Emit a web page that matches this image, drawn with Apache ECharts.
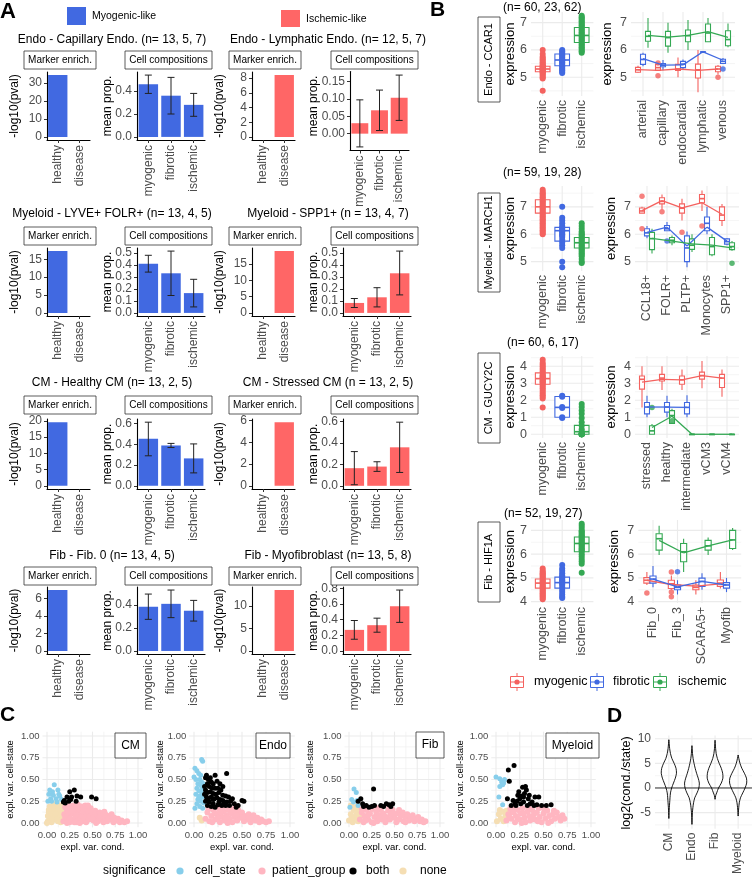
<!DOCTYPE html>
<html><head><meta charset="utf-8">
<script src="https://cdn.jsdelivr.net/npm/echarts@6/dist/echarts.min.js"></script>
<style>html,body{margin:0;padding:0;background:#fff}#c{width:754px;height:877px}</style>
</head><body><div id="c"></div>
<script>
// ================= DATA =================
// ---- Panel A ----
const A_titles = ['Endo - Capillary Endo. (n= 13, 5, 7)','Endo - Lymphatic Endo. (n= 12, 5, 7)','Myeloid - LYVE+ FOLR+ (n= 13, 4, 5)','Myeloid - SPP1+ (n = 13, 4, 7)','CM - Healthy CM (n= 13, 2, 5)','CM - Stressed CM (n = 13, 2, 5)','Fib - Fib. 0 (n= 13, 4, 5)','Fib - Myofibroblast (n= 13, 5, 8)'];
const A_markerCats = ['healthy','disease'];
const A_compCats = ['myogenic','fibrotic','ischemic'];
const A_legend = ['Myogenic-like','Ischemic-like'];
const A_marker = [[34.4,0],[0,8.4],[17.3,0],[0,19.0],[19.6,0],[0,5.85],[7.0,0],[0,13.6]];
const A_markerTicks = [[0,10,20,30],[0,2,4,6,8],[0,5,10,15],[0,5,10,15],[0,5,10,15,20],[0,2,4,6],[0,2,4,6],[0,5,10]];
const A_compMean = [[0.46,0.36,0.28],[0.03,0.067,0.103],[0.41,0.33,0.165],[0.083,0.13,0.33],[0.455,0.39,0.265],[0.165,0.18,0.36],[0.385,0.41,0.35],[0.27,0.33,0.573]];
const A_compLo = [[0.38,0.2,0.18],[-0.038,0.009,0.038],[0.34,0.145,0.05],[0.045,0.05,0.15],[0.29,0.37,0.125],[0.01,0.135,0.125],[0.275,0.29,0.26],[0.15,0.24,0.366]];
const A_compHi = [[0.54,0.52,0.38],[0.097,0.125,0.168],[0.48,0.515,0.28],[0.12,0.21,0.515],[0.615,0.41,0.405],[0.32,0.225,0.595],[0.495,0.53,0.44],[0.39,0.42,0.78]];
const A_compTicks = [[0,0.2,0.4],[0,0.05,0.1,0.15],[0,0.1,0.2,0.3,0.4,0.5],[0,0.1,0.2,0.3,0.4,0.5],[0,0.2,0.4,0.6],[0,0.2,0.4,0.6],[0,0.2,0.4],[0,0.2,0.4,0.6,0.8]];

// ---- Panel B ----
const B_strips = ['Endo - CCAR1','Myeloid - MARCH1','CM - GUCY2C','Fib - HIF1A'];
const B_n = ['(n= 60, 23, 62)','(n= 59, 19, 28)','(n= 60, 6, 17)','(n= 52, 19, 27)'];
const B_groups = ['myogenic','fibrotic','ischemic'];
const B_subCats = [['arterial','capillary','endocardial','lymphatic','venous'],['CCL18+','FOLR+','PLTP+','Monocytes','SPP1+'],['stressed','healthy','intermediate','vCM3','vCM4'],['Fib_0','Fib_3','SCARA5+','Myofib']];
const B_yTicks = [[5,6,7],[5,6,7],[0,1,2,3,4],[4,5,6,7]];
const B_pts = [
 [[6.0,5.85,5.75,5.7,5.65,5.6,5.55,5.5,5.45,5.42,5.4,5.37,5.35,5.32,5.3,5.28,5.25,5.22,5.2,5.17,5.15,5.1,5.05,5.0,4.95,4.5],
  [6.0,5.95,5.9,5.85,5.8,5.75,5.7,5.65,5.62,5.6,5.55,5.5,5.45,5.4,5.35,5.3,5.25,5.2,5.15],
  [7.25,7.2,7.15,7.1,7.05,7.0,6.95,6.9,6.85,6.8,6.75,6.7,6.65,6.6,6.55,6.5,6.45,6.4,6.35,6.3,6.25,6.2,6.15,6.1,6.05,6.0,5.95,5.9]],
 [[7.62,7.55,7.5,7.45,7.4,7.35,7.3,7.25,7.2,7.15,7.1,7.05,7.0,6.95,6.9,6.85,6.8,6.75,6.7,6.65,6.6,6.55,6.5,6.45,6.4,6.35,6.3,6.25,6.2,6.15,6.1,6.05,6.0],
  [7.0,6.6,6.5,6.4,6.3,6.25,6.2,6.15,6.1,6.05,6.0,5.95,5.9,5.8,5.7,5.6,5.5,5.0,4.8],
  [6.4,6.3,6.2,6.1,6.05,6.0,5.95,5.9,5.85,5.8,5.75,5.7,5.65,5.6,5.55,5.5,5.45,5.4,5.35,5.3,5.25,5.2,5.1,5.0,4.95]],
 [[4.38,4.2,4.1,4.0,3.9,3.8,3.7,3.6,3.5,3.45,3.4,3.35,3.3,3.25,3.2,3.15,3.1,3.05,3.0,2.9,2.8,2.7,2.6,2.5,2.4,2.3,2.2,2.1,1.58],
  [2.26,2.2,1.6,1.55,1.0,0.95],
  [1.78,1.6,1.39,1.2,0.95,0.7,0.5,0.3,0.15,0.05,0,0,0,0,0,0,0]],
 [[5.4,5.3,5.25,5.2,5.15,5.1,5.05,5.0,4.95,4.9,4.85,4.8,4.75,4.7,4.65,4.6,4.55,4.5,4.45,4.4,4.35,4.3,4.25,4.2,4.15,4.1],
  [5.54,5.4,5.3,5.2,5.1,5.05,5.0,4.95,4.9,4.85,4.8,4.75,4.7,4.6,4.5,4.4,4.3,4.2,4.15],
  [7.28,7.2,7.1,7.0,6.95,6.9,6.85,6.8,6.75,6.7,6.65,6.6,6.55,6.5,6.45,6.4,6.35,6.3,6.25,6.2,6.15,6.1,6.0,5.9,5.8,5.7,5.6,5.22]]
];
// [min, q1, median, q3, max]
const B_box = [
 [[4.95,5.2,5.3,5.4,5.7],[5.15,5.42,5.63,5.85,6.0],[5.9,6.27,6.53,6.82,7.25]],
 [[6.0,6.77,7.0,7.26,7.62],[5.5,5.75,6.13,6.25,6.6],[5.0,5.5,5.69,5.88,6.4]],
 [[2.0,2.94,3.27,3.61,4.38],[0.95,1.0,1.58,2.22,2.26],[0,0,0.15,0.52,1.2]],
 [[4.1,4.57,4.78,4.95,5.4],[4.15,4.57,4.8,5.03,5.54],[5.6,6.1,6.45,6.72,7.28]]
];
const B_subBox = [
 [[[5.15,5.18,5.27,5.36,5.42],[5.25,5.25,5.35,5.47,5.55],[5.0,5.25,5.3,5.47,5.72],[4.45,4.97,5.27,5.48,6.0],[5.1,5.2,5.3,5.4,5.45]],
  [[5.4,5.47,5.65,5.84,5.9],[5.25,5.38,5.44,5.5,5.63],[5.3,5.35,5.48,5.58,5.65],[5.93,5.93,5.93,5.93,5.93],[5.5,5.5,5.58,5.66,5.7]],
  [[6.08,6.32,6.5,6.68,7.17],[5.9,6.14,6.45,6.68,7.0],[6.0,6.3,6.52,6.73,7.1],[6.3,6.3,6.62,6.95,7.17],[6.1,6.15,6.38,6.7,6.97]]],
 [[[6.77,6.77,6.85,6.96,7.0],[6.9,7.11,7.2,7.33,7.45],[6.5,6.77,6.95,7.11,7.3],[6.85,7.15,7.3,7.45,7.6],[6.3,6.5,6.7,7.0,7.1]],
  [[5.85,5.94,6.05,6.2,6.3],[6.13,6.13,6.2,6.32,6.45],[4.8,5.0,5.5,5.94,6.1],[6.0,6.13,6.4,6.63,7.0],[5.6,5.64,5.73,5.83,5.85]],
  [[5.3,5.44,5.84,6.07,6.2],[5.6,5.69,5.78,5.88,5.95],[5.35,5.45,5.6,5.83,6.0],[5.2,5.25,5.55,5.88,6.0],[5.4,5.44,5.55,5.69,5.75]]],
 [[[1.58,2.65,3.23,3.42,4.0],[2.6,3.13,3.3,3.52,4.0],[2.6,2.94,3.2,3.42,3.8],[2.7,3.24,3.45,3.65,4.3],[2.2,2.75,3.3,3.52,3.8]],
  [[1.0,1.2,1.6,1.87,2.27],[1.0,1.3,1.6,1.87,2.27],[1.0,1.2,1.58,1.87,2.3],null,null],
  [[0,0,0.2,0.5,0.6],[0.64,0.64,1.1,1.39,1.5],[0,0,0,0,0],[0,0,0,0,0],[0,0,0,0,0]]],
 [[[4.7,4.78,4.9,5.01,5.25],[4.5,4.55,4.75,4.9,5.1],[4.3,4.5,4.6,4.7,4.9],[4.55,4.64,4.78,4.91,5.25]],
  [[4.6,4.78,4.95,5.08,5.5],[4.3,4.5,4.6,4.7,4.9],[4.5,4.64,4.85,4.99,5.2],[4.4,4.57,4.7,4.8,5.0]],
  [[5.96,6.17,6.65,6.86,7.2],[5.25,5.68,6.1,6.45,6.65],[5.96,6.17,6.35,6.58,6.7],[6.17,6.24,6.6,7.0,7.1]]]
];
// outliers: [category index, value]
const B_subOut = [
 [[[1,5.52],[1,5.05],[4,5.0]],[[4,5.3]],[]],
 [[[0,7.39],[0,6.2],[1,6.82],[2,6.07],[3,6.3]],[[1,5.75]],[[4,4.94]]],
 [[],[],[[0,1.58],[1,0.8]]],
 [[[0,4.36],[1,5.25],[1,4.4],[1,4.2]],[[1,5.26]],[]]
];
const B_subLine = [
 [[5.28,5.25,5.3,5.25,5.3],[5.68,5.44,5.45,5.93,5.62],[6.53,6.47,6.53,6.67,6.46]],
 [[6.86,7.23,6.96,7.15,6.73],[6.07,6.26,5.57,6.26,5.75],[5.85,5.75,5.65,5.6,5.5]],
 [[3.07,3.23,3.2,3.44,3.3],[1.6,1.6,1.58,null,null],[0.4,1.06,0,0,0]],
 [[4.9,4.72,4.65,4.75],[4.95,4.62,4.85,4.7],[6.58,6.05,6.35,6.6]]
];

// ---- Panel C ----
const C_panels = ['CM','Endo','Fib','Myeloid'];
const C_sig = ['cell_state','patient_group','both','none'];
const C_ticks = [0,0.25,0.5,0.75,1];
const C_none = [
 [[0.01,0.02],[0.03,0.06],[0.05,0.01],[0.06,0.1],[0.08,0.04],[0.1,0.08],[0.12,0.02],[0.13,0.12],[0.15,0.06],[0.16,0.15],[0.02,0.12],[0.04,0.16],[0.07,0.2],[0.09,0.14],[0.11,0.18],[0.14,0.2],[0.17,0.1],[0.01,0.08],[0.05,0.13],[0.08,0.17],[0.12,0.15],[0.15,0.01],[0.17,0.18],[0.03,0.19],[0.1,0.22],[0.06,0.05],[0.13,0.07],[0.16,0.03],[0.02,0.15],[0.09,0.1],[0.0,0.0],[0.11,0.04]],
 [[0.06,0.06],[0.08,0.03]],
 [[0.0,0.03],[0.02,0.1],[0.04,0.01],[0.05,0.15],[0.07,0.06],[0.09,0.12],[0.1,0.02],[0.02,0.2],[0.06,0.18],[0.08,0.09],[0.11,0.16],[0.03,0.06],[0.12,0.07],[0.1,0.2]],
 [[0.01,0.02],[0.03,0.1],[0.05,0.05],[0.07,0.13],[0.08,0.02],[0.1,0.08],[0.04,0.15],[0.11,0.14]]
];
const C_patient = [
 [[0.18,0.02],[0.19,0.1],[0.2,0.18],[0.21,0.05],[0.22,0.14],[0.23,0.21],[0.24,0.08],[0.25,0.01],[0.26,0.17],[0.27,0.11],[0.28,0.04],[0.29,0.2],[0.3,0.14],[0.31,0.07],[0.32,0.01],[0.33,0.18],[0.34,0.11],[0.35,0.04],[0.36,0.15],[0.37,0.08],[0.38,0.19],[0.39,0.02],[0.4,0.12],[0.41,0.06],[0.42,0.16],[0.43,0.01],[0.44,0.1],[0.45,0.14],[0.46,0.04],[0.47,0.08],[0.48,0.17],[0.5,0.12],[0.51,0.03],[0.52,0.07],[0.53,0.14],[0.55,0.1],[0.56,0.02],[0.57,0.06],[0.58,0.12],[0.6,0.04],[0.61,0.09],[0.62,0.01],[0.63,0.13],[0.65,0.06],[0.66,0.02],[0.68,0.08],[0.7,0.04],[0.71,0.1],[0.73,0.01],[0.74,0.06],[0.76,0.03],[0.78,0.05],[0.8,0.01],[0.82,0.03],[0.85,0.01],[0.88,0.02],[0.34,0.21],[0.42,0.2],[0.23,0.12],[0.3,0.01],[0.45,0.2],[0.28,0.15],[0.2,0.07],[0.25,0.05],[0.36,0.0],[0.49,0.05],[0.54,0.0],[0.59,0.08],[0.67,0.05],[0.32,0.09],[0.4,0.16],[0.22,0.0],[0.64,0.1],[0.72,0.07]],
 [[0.12,0.05],[0.14,0.12],[0.16,0.02],[0.18,0.08],[0.2,0.15],[0.22,0.04],[0.24,0.1],[0.26,0.16],[0.27,0.01],[0.29,0.07],[0.31,0.13],[0.32,0.03],[0.34,0.09],[0.36,0.15],[0.37,0.05],[0.39,0.11],[0.4,0.01],[0.42,0.07],[0.43,0.14],[0.45,0.03],[0.47,0.1],[0.48,0.06],[0.5,0.12],[0.52,0.02],[0.53,0.08],[0.55,0.04],[0.57,0.1],[0.59,0.01],[0.6,0.06],[0.62,0.09],[0.64,0.03],[0.66,0.06],[0.68,0.01],[0.7,0.04],[0.72,0.02],[0.75,0.01],[0.78,0.02],[0.22,0.11],[0.3,0.17],[0.15,0.16],[0.41,0.16],[0.35,0.0],[0.46,0.15],[0.19,0.01],[0.28,0.12],[0.44,0.09],[0.51,0.07],[0.58,0.05],[0.33,0.06],[0.25,0.06]],
 [[0.12,0.04],[0.14,0.12],[0.16,0.01],[0.17,0.08],[0.19,0.15],[0.21,0.04],[0.23,0.11],[0.25,0.01],[0.26,0.16],[0.28,0.07],[0.3,0.12],[0.31,0.02],[0.33,0.09],[0.35,0.15],[0.36,0.04],[0.38,0.11],[0.4,0.01],[0.41,0.07],[0.43,0.14],[0.45,0.04],[0.46,0.1],[0.48,0.15],[0.5,0.06],[0.52,0.01],[0.53,0.11],[0.55,0.04],[0.57,0.08],[0.59,0.12],[0.6,0.02],[0.62,0.07],[0.64,0.1],[0.66,0.03],[0.68,0.06],[0.7,0.09],[0.72,0.02],[0.74,0.05],[0.76,0.07],[0.78,0.02],[0.8,0.04],[0.82,0.01],[0.84,0.02],[0.2,0.17],[0.32,0.17],[0.44,0.17],[0.55,0.15],[0.14,0.17],[0.27,0.0],[0.21,0.09],[0.34,0.05],[0.39,0.07],[0.49,0.1],[0.62,0.01],[0.7,0.04],[0.18,0.03]],
 [[0.11,0.03],[0.13,0.1],[0.15,0.16],[0.16,0.05],[0.18,0.12],[0.2,0.01],[0.21,0.08],[0.23,0.15],[0.25,0.04],[0.26,0.11],[0.28,0.17],[0.3,0.06],[0.31,0.01],[0.33,0.13],[0.35,0.08],[0.36,0.03],[0.38,0.15],[0.4,0.1],[0.41,0.04],[0.43,0.12],[0.45,0.17],[0.46,0.07],[0.48,0.01],[0.5,0.11],[0.52,0.05],[0.54,0.14],[0.56,0.08],[0.58,0.02],[0.6,0.1],[0.62,0.05],[0.64,0.12],[0.66,0.07],[0.68,0.03],[0.7,0.09],[0.72,0.05],[0.19,0.17],[0.34,0.18],[0.14,0.07],[0.27,0.0],[0.5,0.17],[0.23,0.05],[0.39,0.05],[0.44,0.02],[0.55,0.0],[0.29,0.11],[0.61,0.14]]
];
const C_cell = [
 [[0.08,0.44],[0.03,0.38],[0.12,0.38],[0.02,0.33],[0.07,0.32],[0.14,0.31],[0.04,0.28],[0.1,0.28],[0.16,0.27],[0.05,0.25],[0.11,0.24],[0.01,0.25],[0.13,0.33],[0.06,0.36]],
 [[0.08,0.73],[0.09,0.71],[0.01,0.63],[0.03,0.6],[0.05,0.57],[0.0,0.53],[0.02,0.5],[0.06,0.5],[0.08,0.47],[0.04,0.45],[0.07,0.43],[0.09,0.4],[0.03,0.4],[0.05,0.37],[0.08,0.35],[0.02,0.33],[0.06,0.31],[0.09,0.3],[0.04,0.27],[0.07,0.25],[0.1,0.23],[0.03,0.22],[0.06,0.19],[0.09,0.17],[0.01,0.17],[0.05,0.3],[0.07,0.55],[0.1,0.45]],
 [[0.055,0.39],[0.08,0.35],[0.03,0.27],[0.09,0.26],[0.05,0.24],[0.01,0.18],[0.1,0.2]],
 [[0.0,0.53],[0.04,0.51],[0.06,0.47],[0.07,0.44],[0.09,0.5],[0.04,0.42],[0.03,0.3],[0.07,0.21],[0.08,0.46]]
];
const C_both = [
 [[0.18,0.24],[0.2,0.23],[0.22,0.3],[0.25,0.36],[0.27,0.3],[0.26,0.27],[0.3,0.38],[0.32,0.25],[0.33,0.31],[0.37,0.3],[0.49,0.3],[0.54,0.28],[0.19,0.26],[0.24,0.25]],
 [[0.13,0.55],[0.22,0.55],[0.34,0.57],[0.12,0.52],[0.15,0.5],[0.18,0.47],[0.2,0.45],[0.14,0.45],[0.16,0.42],[0.19,0.4],[0.22,0.4],[0.25,0.4],[0.28,0.38],[0.12,0.38],[0.14,0.35],[0.17,0.36],[0.2,0.34],[0.23,0.33],[0.26,0.35],[0.3,0.32],[0.33,0.31],[0.36,0.3],[0.13,0.3],[0.15,0.28],[0.18,0.3],[0.21,0.28],[0.24,0.29],[0.27,0.27],[0.3,0.26],[0.34,0.24],[0.38,0.25],[0.42,0.22],[0.46,0.2],[0.5,0.26],[0.52,0.25],[0.12,0.25],[0.16,0.24],[0.2,0.22],[0.25,0.21],[0.29,0.2],[0.33,0.2],[0.14,0.2],[0.18,0.19],[0.22,0.18],[0.4,0.28],[0.37,0.2],[0.3,0.42],[0.27,0.45],[0.17,0.52],[0.24,0.48],[0.11,0.42],[0.11,0.33],[0.2,0.27],[0.44,0.18],[0.31,0.22],[0.26,0.24]],
 [[0.1,0.25],[0.13,0.28],[0.15,0.22],[0.19,0.2],[0.27,0.39],[0.25,0.19],[0.28,0.2],[0.35,0.2],[0.38,0.19],[0.41,0.22],[0.44,0.21],[0.46,0.19],[0.48,0.22],[0.22,0.18],[0.16,0.19]],
 [[0.19,0.66],[0.13,0.61],[0.14,0.48],[0.12,0.28],[0.16,0.2],[0.2,0.22],[0.23,0.32],[0.25,0.28],[0.26,0.22],[0.28,0.41],[0.29,0.24],[0.3,0.34],[0.31,0.42],[0.32,0.38],[0.34,0.28],[0.36,0.22],[0.38,0.24],[0.41,0.3],[0.43,0.21],[0.45,0.3],[0.48,0.2],[0.53,0.2],[0.58,0.21],[0.22,0.25],[0.27,0.31],[0.33,0.2],[0.18,0.26],[0.4,0.2],[0.24,0.36],[0.29,0.3],[0.35,0.32],[0.21,0.2]]
];

// ---- Panel D ----
const D_cats = ['CM','Endo','Fib','Myeloid'];
const D_yTicks = [-5,0,5,10];
// violin outline: [value, half width in category units]
const D_violin = [
 [[-6.2,0],[-5,0.01],[-4,0.02],[-3,0.035],[-2,0.05],[-1,0.07],[0,0.12],[1,0.2],[2,0.28],[3,0.33],[4,0.31],[5,0.23],[6,0.13],[7,0.07],[8,0.035],[9,0.015],[9.8,0]],
 [[-7.4,0],[-6,0.01],[-5,0.02],[-4,0.04],[-3,0.07],[-2,0.12],[-1,0.22],[0,0.3],[1,0.32],[2,0.27],[3,0.2],[4,0.14],[5,0.09],[6,0.05],[7,0.025],[8,0.01],[8.6,0]],
 [[-2.3,0],[-1.5,0.03],[-1,0.07],[0,0.15],[1,0.27],[2,0.34],[3,0.33],[4,0.27],[5,0.18],[6,0.1],[7,0.05],[8,0.025],[9,0.01],[9.7,0]],
 [[-5.7,0],[-5,0.01],[-4,0.025],[-3,0.05],[-2,0.1],[-1,0.2],[0,0.3],[1,0.37],[2,0.36],[3,0.27],[4,0.16],[5,0.08],[6,0.03],[6.7,0]]
];

// ================= STYLE / LAYOUT =================
const FF = '"Liberation Sans", Arial, Helvetica, sans-serif';
const TICKC = '#4D4D4D';
const BLUE = '#4169E1', RED = '#FF6666';
const BCOL = ['#F4625F','#4169E1','#34A853'];
const CCOL = {cell_state:'#87CEEB', patient_group:'#FFB6C1', both:'#000000', none:'#F5DEB3'};

const opt = {animation:false, textStyle:{fontFamily:FF}, grid:[], xAxis:[], yAxis:[], series:[], graphic:{elements:[]}};
const G = opt.graphic.elements;

function addGrid(g, xa, ya){ const i = opt.grid.length; opt.grid.push(Object.assign({containLabel:false, show:false}, g)); xa.gridIndex = i; ya.gridIndex = i; opt.xAxis.push(xa); opt.yAxis.push(ya); return i; }
function decFmt(ticks){ const d = Math.max(...ticks.map(t => { const s = String(t); return s.indexOf('.') >= 0 ? s.split('.')[1].length : 0; })); return v => Number(v).toFixed(d); }
function txt(x, y, text, o){ o = o || {}; const al = o.align || 'center', va = o.va || 'middle';
  return {type:'text', x:x, y:y, rotation:o.rot || 0, z:100, silent:true,
    style:{text:text, fontSize:o.size || 12, fontFamily:FF, fontWeight:o.bold ? 'bold' : 'normal', fill:o.color || '#000', align:al, verticalAlign:va, textAlign:al, textVerticalAlign:va}}; }
function rectG(x, y, w, h, fill, stroke){ return {type:'rect', z:99, silent:true, shape:{x:x, y:y, width:w, height:h}, style:{fill:fill, stroke:stroke || null, lineWidth:stroke ? 0.8 : 0}}; }
function minors(ticks, r){ const s = ticks[1] - ticks[0]; const out = []; for (let v = ticks[0] - s / 2; v <= r[1] + 1e-9; v += s){ if (v >= r[0] - 1e-9 && !ticks.some(t => Math.abs(t - v) < 1e-9)) out.push(+v.toFixed(6)); } return out; }
function expand(lo, hi){ const s = hi - lo; return [lo - 0.05 * s, hi + 0.05 * s]; }

// gridline custom renderer: [orient(0=h,1=v), value, kind(0 minor,1 major,2 black), otherAxisValue]
function gridItem(params, api){ const cs = params.coordSys; const o = api.value(0), v = api.value(1), k = api.value(2), ot = api.value(3);
  const st = k === 2 ? {stroke:'#333', lineWidth:1} : (k === 1 ? {stroke:'#EBEBEB', lineWidth:1.1} : {stroke:'#EFEFEF', lineWidth:0.6});
  if (o === 0){ const y = api.coord([ot, v])[1]; return {type:'line', shape:{x1:cs.x, y1:y, x2:cs.x + cs.width, y2:y}, style:st}; }
  const x = api.coord([v, ot])[0]; return {type:'line', shape:{x1:x, y1:cs.y, x2:x, y2:cs.y + cs.height}, style:st}; }
function addGridLines(gi, hMaj, hMin, vMaj, vMin, xr, yr, extraBlack){
  const d = [];
  hMin.forEach(v => d.push([0, v, 0, xr[0]])); vMin.forEach(v => d.push([1, v, 0, yr[0]]));
  hMaj.forEach(v => d.push([0, v, 1, xr[0]])); vMaj.forEach(v => d.push([1, v, 1, yr[0]]));
  (extraBlack || []).forEach(v => d.push([0, v, 2, xr[0]]));
  opt.series.push({type:'custom', xAxisIndex:gi, yAxisIndex:gi, data:d, renderItem:gridItem, silent:true, z:0, clip:false});
}
function boxItem(color, wUnits, lw, fill){ return function(params, api){
  const u = api.size([1, 0])[0]; const xv = api.value(0);
  const X = api.coord([xv, api.value(3)])[0]; const Y = k => api.coord([xv, api.value(k)])[1];
  const yMin = Y(1), yQ1 = Y(2), yMed = Y(3), yQ3 = Y(4), yMax = Y(5); const hw = wUnits * u / 2;
  const st = {stroke:color, lineWidth:lw};
  return {type:'group', children:[
    {type:'line', shape:{x1:X, y1:yQ3, x2:X, y2:yMax}, style:st},
    {type:'line', shape:{x1:X, y1:yQ1, x2:X, y2:yMin}, style:st},
    {type:'rect', shape:{x:X - hw, y:yQ3, width:2 * hw, height:Math.max(yQ1 - yQ3, 0.5)}, style:{stroke:color, lineWidth:lw, fill:fill}},
    {type:'line', shape:{x1:X - hw, y1:yMed, x2:X + hw, y2:yMed}, style:{stroke:color, lineWidth:lw * 1.5}}]}; }; }
function segItem(pts, color){ return function(params, api){ const i = params.dataIndex;
  if (i >= pts.length - 1) return {type:'group', children:[]};
  const a = api.coord(pts[i]), b = api.coord(pts[i + 1]);
  return {type:'line', shape:{x1:a[0], y1:a[1], x2:b[0], y2:b[1]}, style:{stroke:color, lineWidth:1.3}}; }; }
function errItem(color){ return function(params, api){ const i = api.value(0);
  const lo = api.coord([i, api.value(1)]), hi = api.coord([i, api.value(2)]); const x = lo[0], cw = 3.5; const st = {stroke:color, lineWidth:1};
  return {type:'group', children:[{type:'line', shape:{x1:x, y1:lo[1], x2:x, y2:hi[1]}, style:st},
    {type:'line', shape:{x1:x - cw, y1:lo[1], x2:x + cw, y2:lo[1]}, style:st},
    {type:'line', shape:{x1:x - cw, y1:hi[1], x2:x + cw, y2:hi[1]}, style:st}]}; }; }
function violinItem(profiles){ return function(params, api){ const i = params.dataIndex; const pos = api.value(0); const u = api.size([1, 0])[0];
  const R = [], L = []; profiles[i].forEach(p => { const c = api.coord([pos, p[0]]); R.push([c[0] + p[1] * u, c[1]]); L.push([c[0] - p[1] * u, c[1]]); });
  return {type:'polygon', shape:{points:R.concat(L.reverse()), smooth:0.25}, style:{fill:'none', stroke:'#000', lineWidth:0.9}}; }; }

// axis factories
function catAxisA(cats){ return {type:'category', data:cats, axisLine:{show:true, onZero:false, lineStyle:{color:'#000', width:1.1}}, axisTick:{show:true, alignWithLabel:true, length:3, lineStyle:{color:'#333'}}, axisLabel:{rotate:90, interval:0, color:TICKC, fontSize:12, fontFamily:FF, margin:5}, splitLine:{show:false}}; }
function valAxisA(r, ticks){ return {type:'value', min:r[0], max:r[1], axisLine:{show:true, onZero:false, lineStyle:{color:'#000', width:1.1}}, axisTick:{show:true, length:3, customValues:ticks, lineStyle:{color:'#333'}}, axisLabel:{customValues:ticks, formatter:decFmt(ticks), color:TICKC, fontSize:12, fontFamily:FF, margin:5}, splitLine:{show:false}}; }
function xCatVal(cats, r, fs){ const vals = cats.map((_, i) => i + 1); return {type:'value', min:r[0], max:r[1], axisLine:{show:false}, axisTick:{show:false}, splitLine:{show:false}, axisLabel:{customValues:vals, formatter:v => cats[Math.round(v) - 1], rotate:90, color:TICKC, fontSize:fs, fontFamily:FF, margin:4}}; }
function yVal(r, ticks, fs, margin){ return {type:'value', min:r[0], max:r[1], axisLine:{show:false}, axisTick:{show:false}, splitLine:{show:false}, axisLabel:{customValues:ticks, formatter:decFmt(ticks), color:TICKC, fontSize:fs, fontFamily:FF, margin:margin}}; }

// ================= PANEL A =================
G.push(txt(0, 12, 'A', {size:22, bold:true, align:'left'}));
G.push(rectG(67, 7, 19, 18, BLUE)); G.push(txt(92, 16.5, A_legend[0], {size:10.5, align:'left'}));
G.push(rectG(281, 10, 19, 17, RED)); G.push(txt(306, 19, A_legend[1], {size:10.5, align:'left'}));
const A_rowTop = [72, 248, 419, 587], A_rowBot = [140, 316, 489, 654];
const A_stripY = [51, 227, 396, 567], A_titleY = [40, 214, 383, 556];
for (let p = 0; p < 8; p++){
  const r = Math.floor(p / 2), c = p % 2; const dxM = c ? 205 : 0, dxC = c ? 206 : 0; const color = c ? RED : BLUE;
  G.push(txt(c ? 328 : 112, A_titleY[r], A_titles[p], {size:12}));
  G.push(rectG(24 + dxM, A_stripY[r], 72, 18, '#fff', '#333')); G.push(txt(60 + dxM, A_stripY[r] + 9, 'Marker enrich.', {size:10}));
  G.push(rectG(125 + dxC, A_stripY[r], 87, 18, '#fff', '#333')); G.push(txt(168.5 + dxC, A_stripY[r] + 9, 'Cell compositions', {size:10}));
  // marker enrichment
  const mv = A_marker[p]; const mr = expand(0, Math.max(...mv));
  const top = A_rowTop[r], h = A_rowBot[r] - A_rowTop[r];
  const gm = addGrid({left:47 + dxM, top:top, width:43, height:h}, catAxisA(A_markerCats), valAxisA(mr, A_markerTicks[p]));
  opt.series.push({type:'bar', xAxisIndex:gm, yAxisIndex:gm, data:mv, barCategoryGap:'10%', itemStyle:{color:color}, silent:true});
  G.push(txt(15 + dxM, top + h / 2, '-log10(pval)', {size:12, rot:Math.PI / 2}));
  // cell compositions
  const cr = expand(Math.min(0, ...A_compLo[p]), Math.max(...A_compHi[p], ...A_compMean[p]));
  let ct = top, ch = h, cl = 137 + dxC, cw = 68; if (p === 1){ ct = 71.5; ch = 79; cl = 350; cw = 59; }
  const gc = addGrid({left:cl, top:ct, width:cw, height:ch}, catAxisA(A_compCats), valAxisA(cr, A_compTicks[p]));
  opt.series.push({type:'bar', xAxisIndex:gc, yAxisIndex:gc, data:A_compMean[p], barCategoryGap:'14%', itemStyle:{color:color}, silent:true});
  opt.series.push({type:'custom', xAxisIndex:gc, yAxisIndex:gc, data:A_compLo[p].map((lo, i) => [i, lo, A_compHi[p][i]]), renderItem:errItem('#222'), z:5, silent:true});
  G.push(txt(108 + dxC, top + h / 2, 'mean prop.', {size:12, rot:Math.PI / 2}));
}

// ================= PANEL B =================
G.push(txt(430, 10, 'B', {size:21, bold:true, align:'left'}));
const B_rowTop = [12, 186, 356, 520], B_rowBot = [96, 271, 438, 603];
const B_rightLeft = [631, 635, 635, 638.3], B_rightW = [104, 104, 104, 102.9];
const B_strip = [[17, 102], [193, 292], [353, 443], [522, 602]];
const B_nPos = [[503, 7.5], [503, 173], [507, 343], [504, 514]];
const dodge = [-0.25, 0, 0.25];
for (let r = 0; r < 4; r++){
  const all = [];
  B_pts[r].forEach(a => all.push(...a)); B_box[r].forEach(b => all.push(...b));
  B_subBox[r].forEach(gr => gr.forEach(b => { if (b) all.push(...b); })); B_subOut[r].forEach(gr => gr.forEach(o => all.push(o[1])));
  const yr = expand(Math.min(...all), Math.max(...all));
  const ticks = B_yTicks[r], mins = minors(ticks, yr);
  const top = B_rowTop[r], h = B_rowBot[r] - B_rowTop[r];
  const xrL = [0.4, 3.6];
  const gl = addGrid({left:531, top:top, width:62.4, height:h}, xCatVal(B_groups, xrL, 12.5), yVal(yr, ticks, 12.5, 4));
  addGridLines(gl, ticks, mins, [1, 2, 3], [], xrL, yr);
  for (let g = 0; g < 3; g++){
    opt.series.push({type:'custom', xAxisIndex:gl, yAxisIndex:gl, data:[[g + 1, ...B_box[r][g]]], renderItem:boxItem(BCOL[g], 0.75, 1.1, '#fff'), z:2, silent:true});
    opt.series.push({type:'scatter', xAxisIndex:gl, yAxisIndex:gl, data:B_pts[r][g].map(v => [g + 1, v]), symbolSize:6, itemStyle:{color:BCOL[g], opacity:1}, z:3, silent:true});
  }
  const cats = B_subCats[r]; const xrR = [0.4, cats.length + 0.6];
  const gr = addGrid({left:B_rightLeft[r], top:top, width:B_rightW[r], height:h}, xCatVal(cats, xrR, 12.5), yVal(yr, ticks, 12.5, 4));
  addGridLines(gr, ticks, mins, cats.map((_, i) => i + 1), [], xrR, yr);
  for (let g = 0; g < 3; g++){
    const bd = []; B_subBox[r][g].forEach((b, i) => { if (b) bd.push([i + 1 + dodge[g], ...b]); });
    opt.series.push({type:'custom', xAxisIndex:gr, yAxisIndex:gr, data:bd, renderItem:boxItem(BCOL[g], 0.25, 1.1, '#fff'), z:2, silent:true});
    if (B_subOut[r][g].length) opt.series.push({type:'scatter', xAxisIndex:gr, yAxisIndex:gr, data:B_subOut[r][g].map(o => [o[0] + 1 + dodge[g], o[1]]), symbolSize:5.5, itemStyle:{color:BCOL[g]}, z:3, silent:true});
    const lp = []; B_subLine[r][g].forEach((v, i) => { if (v != null) lp.push([i + 1 + dodge[g], v]); });
    opt.series.push({type:'custom', xAxisIndex:gr, yAxisIndex:gr, data:lp, renderItem:segItem(lp, BCOL[g]), z:4, silent:true});
  }
  G.push(txt(B_nPos[r][0], B_nPos[r][1], B_n[r], {size:12, align:'left'}));
  G.push(rectG(478, B_strip[r][0], 22, B_strip[r][1] - B_strip[r][0], '#fff', '#333'));
  G.push(txt(489, (B_strip[r][0] + B_strip[r][1]) / 2, B_strips[r], {size:11, rot:Math.PI / 2}));
  G.push(txt(510, top + h / 2, 'expression', {size:13, rot:Math.PI / 2}));
  G.push(txt(B_rightLeft[r] - 23.5, top + h / 2, 'expression', {size:13, rot:Math.PI / 2}));
}
const B_legX = [517, 597, 660], B_legTX = [534, 613, 678];
for (let g = 0; g < 3; g++){
  const x = B_legX[g], y = 682;
  G.push({type:'line', z:99, silent:true, shape:{x1:x, y1:y - 9, x2:x, y2:y + 9}, style:{stroke:BCOL[g], lineWidth:1}});
  G.push({type:'rect', z:99, silent:true, shape:{x:x - 6.5, y:y - 5.5, width:13, height:11}, style:{fill:'#fff', stroke:BCOL[g], lineWidth:1}});
  G.push({type:'line', z:99, silent:true, shape:{x1:x - 6.5, y1:y, x2:x + 6.5, y2:y}, style:{stroke:BCOL[g], lineWidth:1}});
  G.push({type:'circle', z:100, silent:true, shape:{cx:x, cy:y, r:2.6}, style:{fill:BCOL[g]}});
  G.push(txt(B_legTX[g], y, B_groups[g], {size:12.5, align:'left'}));
}

// ================= PANEL C =================
G.push(txt(0, 715, 'C', {size:21, bold:true, align:'left'}));
const C_left = [42.45, 189.2, 344.45, 491.25], C_w = [100.1, 105.6, 100.1, 104.5];
const C_top = 731.65, C_h = 95.7;
const C_strip = [[115, 733, 31, 25], [256, 733, 34, 25], [416, 732, 28, 26], [546, 733, 53, 25]];
const C_yTitleX = [10, 160, 310, 460];
const cr01 = [-0.05, 1.05]; const cMin = minors(C_ticks, cr01);
for (let k = 0; k < 4; k++){
  const xa = {type:'value', min:cr01[0], max:cr01[1], axisLine:{show:false}, axisTick:{show:false}, splitLine:{show:false}, axisLabel:{customValues:C_ticks, formatter:decFmt(C_ticks), color:TICKC, fontSize:9.5, fontFamily:FF, margin:3}};
  const gi = addGrid({left:C_left[k], top:C_top, width:C_w[k], height:C_h}, xa, yVal(cr01, C_ticks, 9.5, 3));
  addGridLines(gi, C_ticks, cMin, C_ticks, cMin, cr01, cr01);
  const sets = [['none', C_none[k], 6], ['patient_group', C_patient[k], 6], ['cell_state', C_cell[k], 5], ['both', C_both[k], 5]];
  sets.forEach(s => opt.series.push({type:'scatter', name:s[0], xAxisIndex:gi, yAxisIndex:gi, data:s[1], symbolSize:s[2], itemStyle:{color:CCOL[s[0]], opacity:1}, z:3, silent:true}));
  const sb = C_strip[k]; G.push(rectG(sb[0], sb[1], sb[2], sb[3], '#fff', '#333')); G.push(txt(sb[0] + sb[2] / 2, sb[1] + sb[3] / 2, C_panels[k], {size:12}));
  G.push(txt(C_left[k] + C_w[k] / 2, 847, 'expl. var. cond.', {size:9.5}));
  G.push(txt(C_yTitleX[k], C_top + C_h / 2, 'expl. var. cell-state', {size:9.5, rot:Math.PI / 2}));
}
G.push(txt(103, 871, 'significance', {size:12, align:'left'}));
const C_legDot = [180, 262, 353, 403], C_legTxt = [195, 272, 366, 420];
C_sig.forEach((s, i) => { G.push({type:'circle', z:100, silent:true, shape:{cx:C_legDot[i], cy:871, r:3.6}, style:{fill:CCOL[s]}}); G.push(txt(C_legTxt[i], 871, s, {size:12, align:'left'})); });

// ================= PANEL D =================
G.push(txt(607, 716, 'D', {size:21, bold:true, align:'left'}));
{
  let lo = Infinity, hi = -Infinity; D_violin.forEach(v => v.forEach(p => { lo = Math.min(lo, p[0]); hi = Math.max(hi, p[0]); }));
  const yr = expand(lo, hi); const xr = [0.4, 4.6];
  const gi = addGrid({left:655, top:735.5, width:97, height:95.5}, xCatVal(D_cats, xr, 12), yVal(yr, D_yTicks, 12, 4));
  addGridLines(gi, D_yTicks, minors(D_yTicks, yr), [1, 2, 3, 4], [], xr, yr, [0]);
  opt.series.push({type:'custom', xAxisIndex:gi, yAxisIndex:gi, data:D_cats.map((_, i) => [i + 1, 0]), renderItem:violinItem(D_violin), z:3, silent:true});
  G.push(txt(627, 783, 'log2(cond./state)', {size:12.5, rot:Math.PI / 2}));
}

const chart = echarts.init(document.getElementById('c'), null, {renderer:'canvas', width:754, height:877});
chart.setOption(opt);
</script></body></html>
